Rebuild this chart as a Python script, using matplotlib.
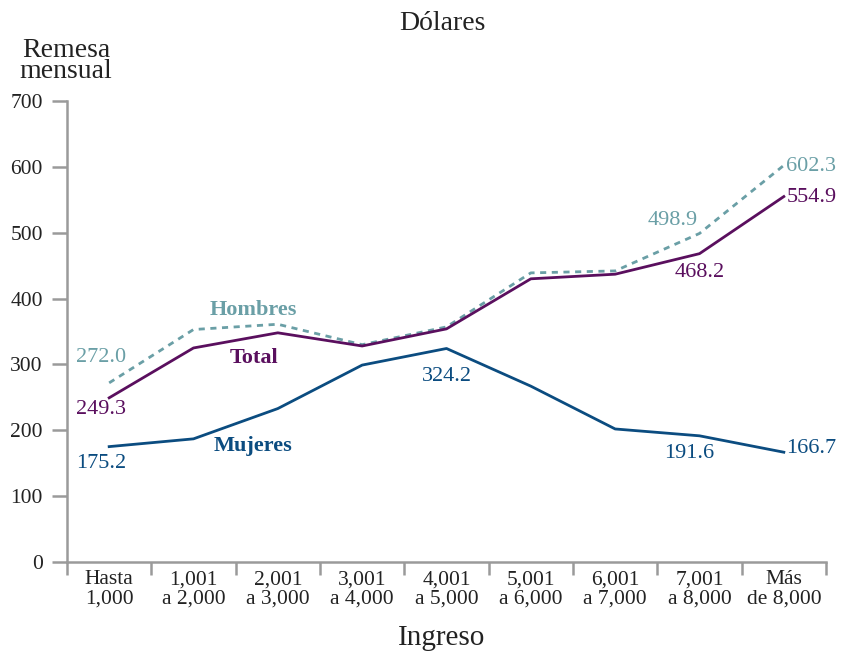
import numpy as np
import matplotlib
matplotlib.use("Agg")
import matplotlib.pyplot as plt

# ==========================================
# DATA
# ==========================================
categories = ["Hasta\n1,000", "1,001\na 2,000", "2,001\na 3,000", "3,001\na 4,000",
              "4,001\na 5,000", "5,001\na 6,000", "6,001\na 7,000", "7,001\na 8,000",
              "Más\nde 8,000"]
hombres = [272.0, 353, 361, 330, 357, 439, 442, 498.9, 602.3]
total = [249.3, 325, 348, 328, 354, 430, 437, 468.2, 554.9]
mujeres = [175.2, 187, 233, 299, 324.2, 267, 202, 191.6, 166.7]
y_ticks = [0, 100, 200, 300, 400, 500, 600, 700]

# ==========================================
# STYLE
# ==========================================
c_hombres = "#6a9fa6"
c_total = "#5a0f5e"
c_mujeres = "#0b4c80"
c_axis = "#9a9a9a"
c_text = "#222222"
plt.rcParams["font.family"] = ["Liberation Serif", "DejaVu Serif"]

fig = plt.figure(figsize=(8.43, 6.54), dpi=100)
ax = fig.add_axes([67 / 843, 1 - 562 / 654, (826 - 67) / 843, (562 - 101) / 654])

x = np.arange(len(categories))
ax.plot(x, hombres, color=c_hombres, lw=2.0, dashes=(2.2, 2.0))
ax.plot(x, total, color=c_total, lw=2.0)
ax.plot(x, mujeres, color=c_mujeres, lw=2.0)

ax.set_xlim(-0.5, len(categories) - 0.5)
ax.set_ylim(0, 700)

# axes styling
for s in ["top", "right"]:
    ax.spines[s].set_visible(False)
for s in ["left", "bottom"]:
    ax.spines[s].set_color(c_axis)
    ax.spines[s].set_linewidth(1.8)

ax.set_yticks(y_ticks)
ax.tick_params(axis="y", direction="out", length=10.5, width=1.8, color=c_axis,
               labelsize=15.5, labelcolor=c_text, pad=7)

# boundary ticks (major, no labels) + centered labels (minor, no tick)
ax.set_xticks(np.arange(-0.5, len(categories), 1.0))
ax.set_xticklabels([])
ax.tick_params(axis="x", which="major", direction="out", length=9.5, width=1.8, color=c_axis)
ax.set_xticks(x, minor=True)
ax.set_xticklabels(categories, minor=True, fontsize=15.5, color=c_text, linespacing=1.05)
ax.tick_params(axis="x", which="minor", length=0, pad=6)

# value labels
fs = 16
ax.text(-0.1, 310, "272.0", color=c_hombres, fontsize=fs, ha="center", va="center")
ax.text(-0.1, 232, "249.3", color=c_total, fontsize=fs, ha="center", va="center")
ax.text(-0.1, 149, "175.2", color=c_mujeres, fontsize=fs, ha="center", va="center")
ax.text(4.0, 282, "324.2", color=c_mujeres, fontsize=fs, ha="center", va="center")
ax.text(6.68, 519, "498.9", color=c_hombres, fontsize=fs, ha="center", va="center")
ax.text(7.0, 439, "468.2", color=c_total, fontsize=fs, ha="center", va="center")
ax.text(6.88, 164, "191.6", color=c_mujeres, fontsize=fs, ha="center", va="center")
ax.text(8.03, 600, "602.3", color=c_hombres, fontsize=fs, ha="left", va="center")
ax.text(8.03, 554, "554.9", color=c_total, fontsize=fs, ha="left", va="center")
ax.text(8.03, 172, "166.7", color=c_mujeres, fontsize=fs, ha="left", va="center")

# series names
ax.text(1.71, 383, "Hombres", color=c_hombres, fontsize=16, fontweight="bold",
        ha="center", va="center")
ax.text(1.72, 310, "Total", color=c_total, fontsize=16, fontweight="bold",
        ha="center", va="center")
ax.text(1.71, 176, "Mujeres", color=c_mujeres, fontsize=16, fontweight="bold",
        ha="center", va="center")

# titles
fig.text(442 / 843, 1 - 24 / 654, "Dólares", fontsize=20, color=c_text,
         ha="center", va="center")
fig.text(66 / 843, 1 - 61 / 654, "Remesa\nmensual", fontsize=20, color=c_text,
         ha="center", va="center", linespacing=0.8)
fig.text(442 / 843, 1 - 638 / 654, "Ingreso", fontsize=21, color=c_text,
         ha="center", va="center")

fig.savefig("out.png", dpi=100)
